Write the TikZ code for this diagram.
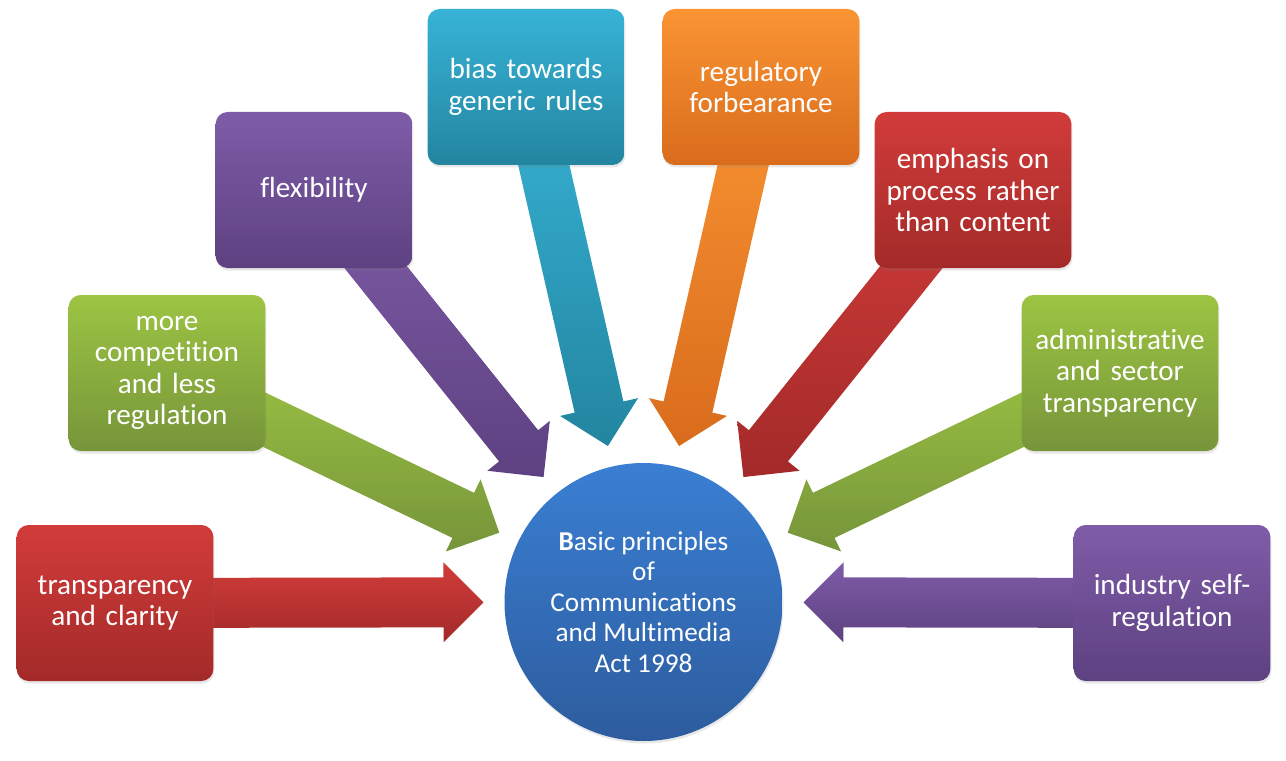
\documentclass[tikz,border=0pt]{standalone}
\usepackage{fontspec}
\setmainfont{Carlito}[Ligatures=NoCommon]
\usepackage{tikz}
\usetikzlibrary{calc,backgrounds,shadows}
\definecolor{redhi}{HTML}{D13C3A}
\definecolor{redlo}{HTML}{A32A29}
\definecolor{greenhi}{HTML}{9DC443}
\definecolor{greenlo}{HTML}{76953A}
\definecolor{purplehi}{HTML}{7F5CA8}
\definecolor{purplelo}{HTML}{5D4181}
\definecolor{tealhi}{HTML}{37B3D6}
\definecolor{teallo}{HTML}{2385A0}
\definecolor{orangehi}{HTML}{FA9433}
\definecolor{orangelo}{HTML}{D96C1C}
\definecolor{bluehi}{HTML}{3A7FD3}
\definecolor{bluelo}{HTML}{2D5C9E}
\tikzset{
  principle/.style={rounded corners=0.24cm,minimum width=3.9cm,
               minimum height=3.12cm,text width=3.7cm,align=center,
               text=white,font=\fontsize{16.6}{17.8}\selectfont,
               drop shadow={opacity=0.18,shadow xshift=0.02cm,
                            shadow yshift=-0.05cm}},
  hubdisc/.style={circle,minimum size=5.56cm,inner sep=0pt,align=center,
               text=white,font=\fontsize{15.5}{17.3}\selectfont,
               top color=bluehi,bottom color=bluelo,
               drop shadow={opacity=0.18,shadow xshift=0.02cm,
                            shadow yshift=-0.05cm}},
}

\begin{document}
\begin{tikzpicture}
  % canvas: 1 px = 0.02 cm
  \useasboundingbox(0,0)rectangle(25.72,15.2);

  % centre
  \node[hubdisc](act)at(12.87,3.16)
    {\textbf{B}asic principles\\of\\Communications\\and Multimedia\\Act 1998};

  % principle boxes, left to right
  \node[principle,top color=redhi,bottom color=redlo](clarity)at(2.30,3.14)
    {transparency\\and clarity};
  \node[principle,top color=greenhi,bottom color=greenlo](competition)at(3.34,7.74)
    {more\\competition\\and less\\regulation};
  \node[principle,top color=purplehi,bottom color=purplelo](flex)at(6.28,11.40)
    {flexibility};
  \node[principle,top color=tealhi,bottom color=teallo](generic)at(10.52,13.46)
    {bias towards\\generic rules};
  \node[principle,top color=orangehi,bottom color=orangelo](forbear)at(15.22,13.46)
    {regulatory\\forbearance};
  \node[principle,top color=redhi,bottom color=redlo](process)at(19.46,11.40)
    {emphasis on\\process rather\\than content};
  \node[principle,top color=greenhi,bottom color=greenlo](admin)at(22.40,7.74)
    {administrative\\and sector\\transparency};
  \node[principle,top color=purplehi,bottom color=purplelo](selfreg)at(23.44,3.14)
    {industry self-\\regulation};

  % fat arrows, behind the boxes: shaft 1cm, head 1.6cm x 0.8cm
  \begin{scope}[on background layer]
  \foreach \src/\ca/\cb in {clarity/redhi/redlo,competition/greenhi/greenlo,
      flex/purplehi/purplelo,generic/tealhi/teallo,forbear/orangehi/orangelo,
      process/redhi/redlo,admin/greenhi/greenlo,selfreg/purplehi/purplelo}{
    \coordinate(tip)at($(act)!3.2cm!(\src)$);
    \coordinate(neck)at($(tip)!0.8cm!(\src)$);
    \shade[top color=\ca,bottom color=\cb]
      ($(\src)!0.5cm!90:(tip)$)--($(neck)!0.5cm!-90:(\src)$)
      --($(neck)!0.8cm!-90:(\src)$)--(tip)
      --($(neck)!0.8cm!90:(\src)$)--($(neck)!0.5cm!90:(\src)$)
      --($(\src)!0.5cm!-90:(tip)$)--cycle;
  }
  \end{scope}
\end{tikzpicture}
\end{document}
